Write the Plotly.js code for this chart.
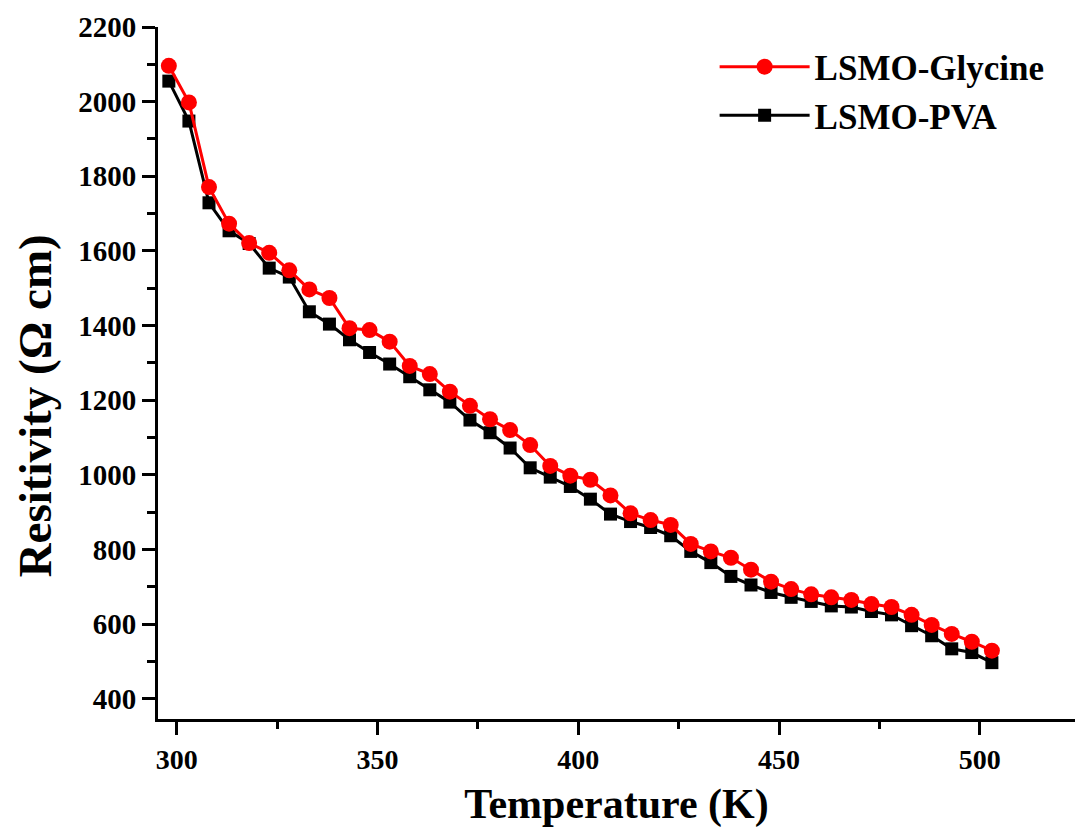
<!DOCTYPE html>
<html>
<head>
<meta charset="utf-8">
<script src="https://cdn.plot.ly/plotly-3.0.1.min.js"></script>
<style>html,body{margin:0;padding:0;background:#fff;}#chart{width:1075px;height:828px;}</style>
</head>
<body>
<div id="chart"></div>
<script>
const temperature = [298,303,308,313,318,323,328,333,338,343,348,353,358,363,368,373,378,383,388,393,398,403,408,413,418,423,428,433,438,443,448,453,458,463,468,473,478,483,488,493,498,503];
const glycine = [2096,1998,1771,1673,1621,1595,1548,1497,1474,1393,1388,1357,1292,1270,1223,1185,1149,1120,1080,1024,998,987,945,897,879,866,815,795,778,746,714,694,680,672,665,654,646,625,598,574,553,529];
const pva = [2055,1948,1729,1654,1620,1554,1530,1437,1404,1362,1328,1297,1263,1228,1195,1147,1113,1072,1019,994,969,935,895,875,859,837,795,765,728,705,685,672,661,649,646,634,625,596,569,534,524,497];
const xTicks = [300,350,400,450,500];
const yTicks = [400,600,800,1000,1200,1400,1600,1800,2000,2200];

const serif = "Liberation Serif, Times New Roman, serif";

const traces = [
  {
    x: temperature, y: pva, name: 'LSMO-PVA', type: 'scatter', mode: 'lines+markers',
    line: {color: '#000000', width: 3},
    marker: {symbol: 'square', size: 13, color: '#000000'}
  },
  {
    x: temperature, y: glycine, name: 'LSMO-Glycine', type: 'scatter', mode: 'lines+markers',
    line: {color: '#ff0000', width: 3},
    marker: {symbol: 'circle', size: 16, color: '#ff0000'}
  }
];

const layout = {
  width: 1075, height: 828,
  margin: {l: 158, r: 0, t: 27, b: 109},
  paper_bgcolor: '#ffffff', plot_bgcolor: '#ffffff',
  showlegend: true,
  legend: {
    x: 0.607, y: 0.985, xanchor: 'left', yanchor: 'top',
    traceorder: 'reversed',
    font: {family: serif, size: 35, color: '#000', weight: 'bold'},
    bgcolor: 'rgba(0,0,0,0)', itemwidth: 90, tracegroupgap: 0
  },
  xaxis: {
    range: [295.3, 523.7],
    tickvals: xTicks, ticktext: xTicks.map(String),
    ticks: 'outside', ticklen: 13, tickwidth: 3, tickcolor: '#000',
    minor: {dtick: 25, tick0: 300, ticks: 'outside', ticklen: 7, tickwidth: 3, tickcolor: '#000'},
    showline: true, linewidth: 3, linecolor: '#000', mirror: false,
    showgrid: false, zeroline: false,
    tickfont: {family: serif, size: 28, color: '#000', weight: 'bold'},
    title: {text: 'Temperature (K)', font: {family: serif, size: 42, color: '#000', weight: 'bold'}, standoff: 20}
  },
  yaxis: {
    range: [346, 2200],
    tickvals: yTicks, ticktext: yTicks.map(String),
    ticks: 'outside', ticklen: 13, tickwidth: 3, tickcolor: '#000',
    minor: {dtick: 100, tick0: 0, ticks: 'outside', ticklen: 8, tickwidth: 3, tickcolor: '#000'},
    showline: true, linewidth: 3, linecolor: '#000', mirror: false,
    showgrid: false, zeroline: false,
    tickfont: {family: serif, size: 29, color: '#000', weight: 'bold'}
  },
  annotations: [{
    text: 'Resitivity (Ω cm)', xref: 'paper', yref: 'paper',
    x: -0.134, y: 0.452, xanchor: 'center', yanchor: 'middle',
    textangle: -90, showarrow: false,
    font: {family: serif, size: 47, color: '#000', weight: 'bold'}
  }]
};

Plotly.newPlot('chart', traces, layout, {displayModeBar: false, staticPlot: true});
</script>
</body>
</html>
